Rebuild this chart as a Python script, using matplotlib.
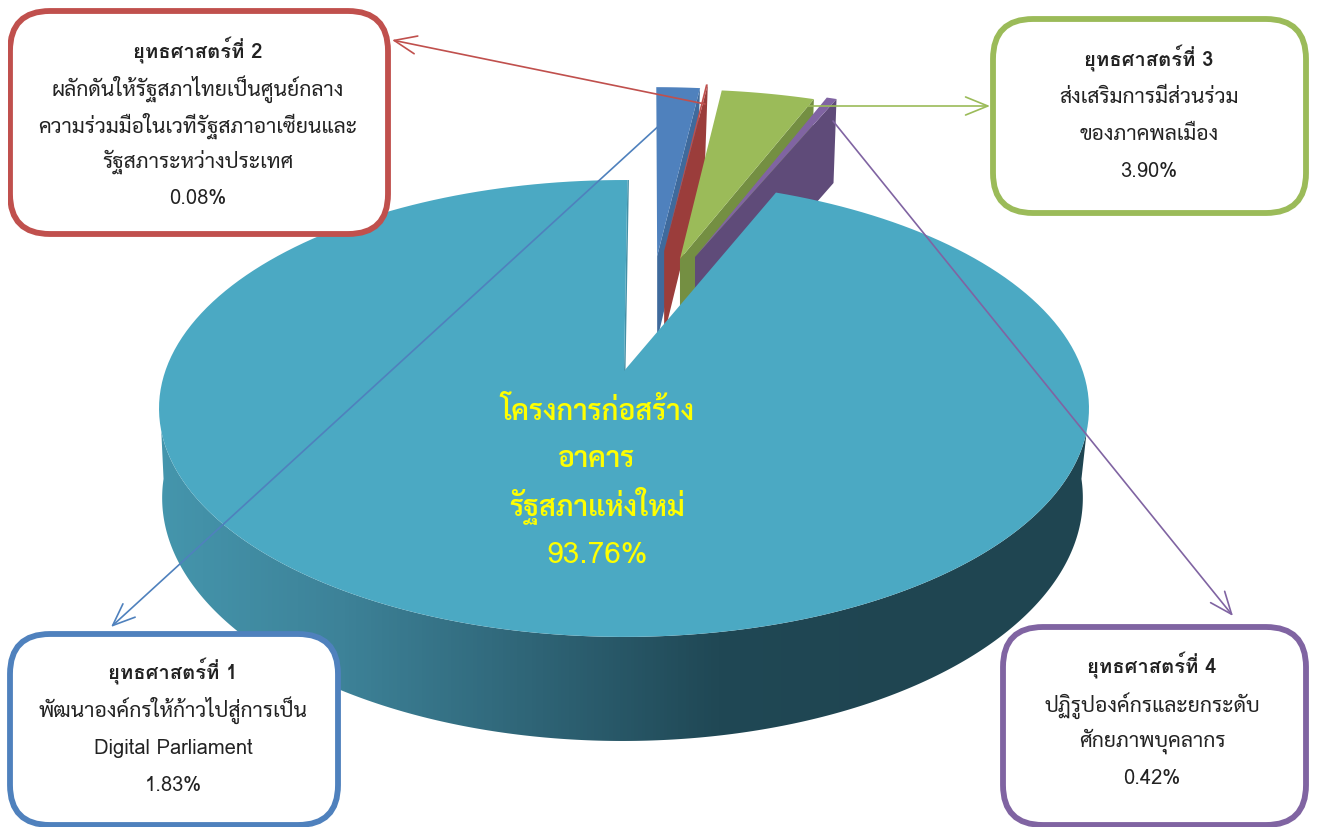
import matplotlib
matplotlib.use("Agg")
import matplotlib.pyplot as plt
import numpy as np
from matplotlib.colors import LinearSegmentedColormap
from matplotlib.patches import FancyBboxPatch, Polygon, Rectangle

# shares in percent, clockwise from the top of the pie
shares = [1.83, 0.08, 3.90, 0.42, 93.76]

box_1_lines = ["ยุทธศาสตร์ที่ 1", "พัฒนาองค์กรให้ก้าวไปสู่การเป็น", "Digital Parliament", "1.83%"]
box_2_lines = ["ยุทธศาสตร์ที่ 2", "ผลักดันให้รัฐสภาไทยเป็นศูนย์กลาง", "ความร่วมมือในเวทีรัฐสภาอาเซียนและ", "รัฐสภาระหว่างประเทศ", "0.08%"]
box_3_lines = ["ยุทธศาสตร์ที่ 3", "ส่งเสริมการมีส่วนร่วม", "ของภาคพลเมือง", "3.90%"]
box_4_lines = ["ยุทธศาสตร์ที่ 4", "ปฏิรูปองค์กรและยกระดับ", "ศักยภาพบุคลากร", "0.42%"]
center_lines = ["โครงการก่อสร้าง", "อาคาร", "รัฐสภาแห่งใหม่", "93.76%"]

BLUE, RED, GREEN, PURPLE = "#4F81BD", "#C0504D", "#9BBB59", "#8064A2"
plt.rcParams["font.family"] = ["Sarabun", "DejaVu Sans"]

# perspective of the tilted pie, unit disc -> image pixels
X0, Y0, A, B, P = 624.0, 372.0, 458.7, 222.3, 0.164


def project(u, v):
    s = 1 / (1 + P * v)
    return X0 + A * u * s, Y0 - B * v * s


def rim(start, end, du=0.0, dv=0.0, r=1.0, n=200):
    t = np.radians(np.linspace(start, end, n))
    return project(du + r * np.sin(t), dv + r * np.cos(t))


def draw_exploded(ax, start, end, du, dv, top, wall, depth=84):
    ax_, ay_ = project(du, dv)
    x, y = rim(start, end, du + 0.01, dv, r=1.05, n=30)
    # cut face on the right side of the slice
    ax.add_patch(Polygon([(x[-1], y[-1]), (ax_, ay_), (ax_, ay_ + depth), (x[-1] - 3, y[-1] + depth)],
                         fc=wall, ec="none"))
    ax.add_patch(Polygon(np.r_[[[ax_, ay_]], np.c_[x, y]], fc=top, ec="none"))


def draw_box(ax, x0, y0, x1, y1, colour, lines, tx, ys, clip=None):
    box = FancyBboxPatch((x0 + 40, y0 + 40), x1 - x0 - 80, y1 - y0 - 80,
                         boxstyle="round,pad=40,rounding_size=40", fc="white", ec=colour, lw=4.2, zorder=5)
    ax.add_patch(box)
    if clip is not None:
        box.set_clip_path(Rectangle((clip[0], clip[1]), 1317, 828, transform=ax.transData))
    for i, (line, y) in enumerate(zip(lines, ys)):
        # Sarabun stacks the tone mark onto the vowel in "ที่" without shaping, Loma does not
        if i == 0:
            ax.text(tx, y, line, ha="center", va="baseline", fontsize=14.5, color="#222222",
                    family=["Loma", "DejaVu Sans"], fontweight="bold", zorder=6)
        elif line.isascii():
            ax.text(tx, y, line, ha="center", va="baseline", fontsize=14.5, color="#222222",
                    family=["Loma", "DejaVu Sans"], zorder=6)
        else:
            ax.text(tx, y, line, ha="center", va="baseline", fontsize=15.2, color="#222222", zorder=6)


def draw_arrow(ax, start, end, colour):
    ax.annotate("", xy=end, xytext=start, zorder=4,
                arrowprops=dict(arrowstyle="->,head_length=1.6,head_width=0.65", color=colour, lw=1.2,
                                shrinkA=0, shrinkB=0))


fig = plt.figure(figsize=(13.17, 8.28), dpi=100)
ax = fig.add_axes([0, 0, 1, 1])

edges = np.r_[0, np.cumsum(shares)] * 3.6

draw_exploded(ax, edges[0], edges[1], 0.079, 0.565, BLUE, "#3F6A9C")
draw_exploded(ax, edges[1], edges[2], 0.096, 0.592, RED, "#9B3D3B")
draw_exploded(ax, edges[2], edges[3], 0.133, 0.549, GREEN, "#748F42")
draw_exploded(ax, edges[3], edges[4], 0.169, 0.560, PURPLE, "#5F4B79")

# side wall of the main slice, shaded from left to right
tx, ty = rim(105, 255, n=300)
bt = np.radians(np.linspace(95, 265, 300))
bx, by = project(np.sin(bt), np.cos(bt))
bx = X0 - 1.5 + (bx - X0) * 0.99
by = by + 87 / (1 + P * np.cos(bt))
wall = Polygon(np.r_[np.c_[tx, ty], np.c_[bx, by][::-1]], fc="none", ec="none")
ax.add_patch(wall)
cmap = LinearSegmentedColormap.from_list("wall", ["#4596AD", "#3D8298", "#2F6577", "#204855", "#1F4551", "#1F4551"])
grad = ax.imshow(np.linspace(0, 1, 256)[None, :], extent=(155, 1092, 760, 400), cmap=cmap, aspect="auto", zorder=1)
grad.set_clip_path(wall)

# cut face of the main slice at the top of the gap
ex, ey = project(0, 0)
sx, sy = rim(360.5, 360.5, n=1)
ax.add_patch(Polygon([(ex, ey), (sx[0], sy[0]), (sx[0] + 1.5, sy[0]), (ex + 1.5, ey)], fc="#4590A6", ec="none", zorder=1))

px, py = rim(edges[4], 360.5)
ax.add_patch(Polygon(np.r_[[[ex, ey]], np.c_[px, py]], fc="#4BA9C3", ec="none", zorder=2))

draw_arrow(ax, (705, 105), (392, 41), RED)
draw_arrow(ax, (803, 107), (990, 107), GREEN)
draw_arrow(ax, (663, 123), (111, 628), BLUE)
draw_arrow(ax, (833, 122), (1233, 617), PURPLE)

draw_box(ax, 10, 12, 388, 235, RED, box_2_lines, 198, [59, 96, 133, 168, 204], clip=(8, 9))
draw_box(ax, 993, 20, 1306, 214, GREEN, box_3_lines, 1149, [67, 103, 140, 177])
draw_box(ax, 10, 635, 338, 826, BLUE, box_1_lines, 173, [680, 717, 754, 791])
draw_box(ax, 1003, 628, 1306, 826, PURPLE, box_4_lines, 1152, [674, 712, 747, 784])

for line, y in zip(center_lines, [420, 467, 515, 563]):
    if line.isascii():
        ax.text(597, y, line, ha="center", va="baseline", fontsize=21.5, color="#FFFF00",
                family=["Loma", "DejaVu Sans"], zorder=3)
    else:
        ax.text(597, y, line, ha="center", va="baseline", fontsize=20.5, fontweight="semibold",
                color="#FFFF00", zorder=3)

ax.set_xlim(0, 1317)
ax.set_ylim(828, 0)
ax.axis("off")
fig.savefig("out.png", dpi=100)
